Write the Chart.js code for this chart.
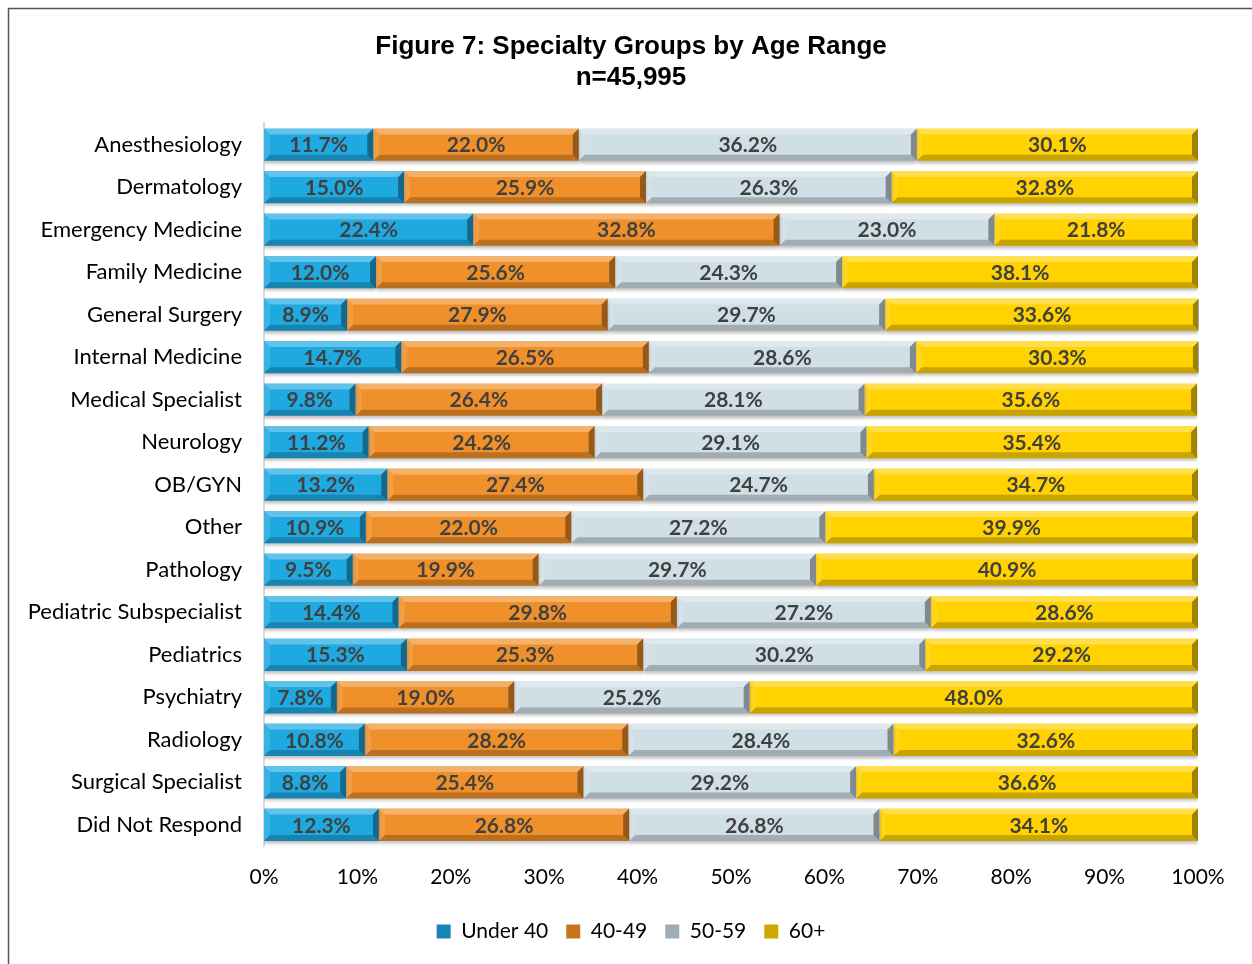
<!DOCTYPE html>
<html>
<head>
<meta charset="utf-8">
<script src="https://cdn.jsdelivr.net/npm/chart.js@4/dist/chart.umd.min.js"></script>
<style>
  body { margin: 0; background: #fff; }
  canvas { display: block; }
</style>
</head>
<body>
<canvas id="grafico" width="1252" height="964"></canvas>
<script>
// especialidades y porcentajes por rango de edad
var especialidades = ['Anesthesiology', 'Dermatology', 'Emergency Medicine', 'Family Medicine',
	'General Surgery', 'Internal Medicine', 'Medical Specialist', 'Neurology', 'OB/GYN', 'Other',
	'Pathology', 'Pediatric Subspecialist', 'Pediatrics', 'Psychiatry', 'Radiology',
	'Surgical Specialist', 'Did Not Respond'];
var rangos = ['Under 40', '40-49', '50-59', '60+'];
var menos40 = [11.7, 15.0, 22.4, 12.0, 8.9, 14.7, 9.8, 11.2, 13.2, 10.9, 9.5, 14.4, 15.3, 7.8, 10.8, 8.8, 12.3];
var de40a49 = [22.0, 25.9, 32.8, 25.6, 27.9, 26.5, 26.4, 24.2, 27.4, 22.0, 19.9, 29.8, 25.3, 19.0, 28.2, 25.4, 26.8];
var de50a59 = [36.2, 26.3, 23.0, 24.3, 29.7, 28.6, 28.1, 29.1, 24.7, 27.2, 29.7, 27.2, 30.2, 25.2, 28.4, 29.2, 26.8];
var mas60 = [30.1, 32.8, 21.8, 38.1, 33.6, 30.3, 35.6, 35.4, 34.7, 39.9, 40.9, 28.6, 29.2, 48.0, 32.6, 36.6, 34.1];
var ticksX = [0, 10, 20, 30, 40, 50, 60, 70, 80, 90, 100];

var colores = ['#1FA9E1', '#F0902A', '#D0DEE6', '#FFD200'];
var coloresLeyenda = ['#1685B5', '#C8741F', '#9EADB6', '#CFA800'];

var contexto = document.getElementById('grafico').getContext('2d');

var data = {
	labels: especialidades,
	datasets: [menos40, de40a49, de50a59, mas60].map(function (serie, i) {
		return {
			label: rangos[i],
			data: serie,
			backgroundColor: colores[i],
			borderWidth: 0,
			barPercentage: 0.76,
			categoryPercentage: 1
		};
	})
};

// marco exterior
var marco = {
	id: 'marco',
	beforeDraw: function (chart) {
		var ctx = chart.ctx;
		ctx.save();
		ctx.fillStyle = '#fff';
		ctx.fillRect(0, 0, chart.width, chart.height);
		ctx.strokeStyle = '#555';
		ctx.lineWidth = 1.5;
		ctx.strokeRect(8.5, 8.5, 1400, 1200);
		ctx.restore();
	}
};

// efecto biselado + etiquetas
var bisel = {
	id: 'bisel',
	beforeDatasetsDraw: function (chart) {
		var ctx = chart.ctx;
		ctx.save();
		ctx.shadowColor = 'rgba(0,0,0,0.25)';
		ctx.shadowOffsetY = 3;
		ctx.shadowBlur = 3;
	},
	afterDatasetsDraw: function (chart) {
		var ctx = chart.ctx;
		ctx.restore();
		ctx.save();
		var b = 6;
		chart.data.datasets.forEach(function (ds, i) {
			var meta = chart.getDatasetMeta(i);
			meta.data.forEach(function (el, j) {
				var p = el.getProps(['x', 'y', 'base', 'height'], true);
				var x0 = Math.min(p.base, p.x), x1 = Math.max(p.base, p.x);
				var y0 = p.y - p.height / 2, y1 = p.y + p.height / 2;
				function poli(pts, col) {
					ctx.beginPath();
					ctx.moveTo(pts[0][0], pts[0][1]);
					for (var k = 1; k < pts.length; k++) ctx.lineTo(pts[k][0], pts[k][1]);
					ctx.closePath();
					ctx.fillStyle = col;
					ctx.fill();
				}
				poli([[x0, y0], [x1, y0], [x1 - b, y0 + b], [x0 + b, y0 + b]], 'rgba(255,255,255,0.30)');
				poli([[x0, y1], [x1, y1], [x1 - b, y1 - b], [x0 + b, y1 - b]], 'rgba(0,0,0,0.22)');
				poli([[x0, y0], [x0 + b, y0 + b], [x0 + b, y1 - b], [x0, y1]], 'rgba(255,255,255,0.12)');
				poli([[x1, y0], [x1 - b, y0 + b], [x1 - b, y1 - b], [x1, y1]], 'rgba(0,0,0,0.38)');

				ctx.fillStyle = '#404040';
				ctx.font = 'bold 21px Lato';
				ctx.textAlign = 'center';
				ctx.textBaseline = 'middle';
				ctx.fillText(ds.data[j].toFixed(1) + '%', (x0 + x1) / 2, p.y + 1);
			});
		});
		ctx.restore();
	}
};

var grafico = new Chart(contexto, {
	type: 'bar',
	data: data,
	plugins: [marco, bisel],
	options: {
		indexAxis: 'y',
		responsive: false,
		animation: false,
		layout: { padding: { top: 20, right: 0, bottom: 12, left: 10 } },
		scales: {
			x: {
				stacked: true,
				min: 0,
				max: 100,
				afterBuildTicks: function (scale) {
					scale.ticks = ticksX.map(function (v) { return { value: v }; });
				},
				afterFit: function (scale) { scale.height = 57; },
				grid: { display: false, drawTicks: false },
				border: { display: false },
				ticks: {
					padding: 19,
					color: '#000',
					font: { family: 'Lato', size: 21 },
					callback: function (v) { return v + '%'; }
				}
			},
			y: {
				stacked: true,
				afterFit: function (scale) { scale.width = 254; },
				grid: { display: false, drawTicks: false },
				border: { display: true, color: '#D9D9D9', width: 2 },
				ticks: {
					padding: 22,
					color: '#000',
					font: { family: 'Lato', size: 22 }
				}
			},
			derecha: {
				type: 'category',
				position: 'right',
				afterFit: function (scale) { scale.width = 54; },
				grid: { display: false, drawTicks: false },
				border: { display: false },
				ticks: { display: false }
			}
		},
		plugins: {
			title: {
				display: true,
				text: ['Figure 7: Specialty Groups by Age Range', 'n=45,995'],
				color: '#000',
				font: { family: 'Liberation Sans', size: 26, weight: 'bold', lineHeight: 1.2 },
				padding: { top: 11, bottom: 30 }
			},
			legend: {
				position: 'bottom',
				labels: {
					color: '#000',
					font: { family: 'Lato', size: 21 },
					boxWidth: 14,
					boxHeight: 14,
					padding: 18,
					generateLabels: function (chart) {
						return chart.data.datasets.map(function (ds, i) {
							return {
								text: ds.label,
								fillStyle: coloresLeyenda[i],
								strokeStyle: coloresLeyenda[i],
								lineWidth: 0,
								datasetIndex: i
							};
						});
					}
				}
			},
			tooltip: { enabled: false }
		}
	}
});
</script>
</body>
</html>
